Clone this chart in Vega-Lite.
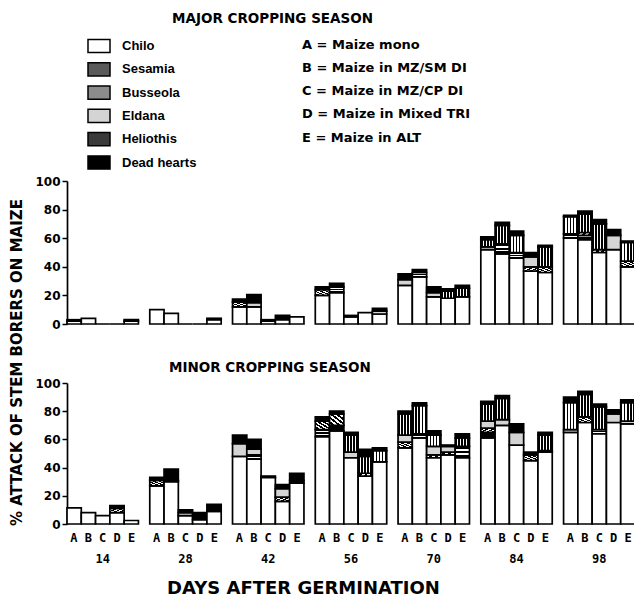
{
  "$schema": "https://vega.github.io/schema/vega-lite/v6.json",
  "background": "white",
  "padding": {"left": 9, "top": 11, "right": 0, "bottom": 0},
  "bounds": "flush",
  "spacing": 59,
  "config": {
    "view": {"stroke": null},
    "font": "DejaVu Sans",
    "axis": {"labelColor": "black", "domainColor": "black", "tickColor": "black", "titleColor": "black", "labelFont": "DejaVu Sans", "labelFontWeight": "bold", "grid": false},
    "legend": {"labelLimit": 400},
    "title": {"color": "black"}
  },
  "datasets": {
    "pests": [
      {"p": "Chilo", "o": 1}, {"p": "Sesamia", "o": 2}, {"p": "Busseola", "o": 3}, {"p": "Eldana", "o": 4}, {"p": "Heliothis", "o": 5}, {"p": "Dead hearts", "o": 6}
    ],
    "major": [
      {"d": 14, "t": "A", "p": "Chilo", "v": 2}, {"d": 14, "t": "A", "p": "Sesamia", "v": 1},
      {"d": 14, "t": "B", "p": "Chilo", "v": 4},
      {"d": 14, "t": "C", "p": "Chilo", "v": 0},
      {"d": 14, "t": "D", "p": "Chilo", "v": 0},
      {"d": 14, "t": "E", "p": "Chilo", "v": 2}, {"d": 14, "t": "E", "p": "Sesamia", "v": 1},
      {"d": 28, "t": "A", "p": "Chilo", "v": 10},
      {"d": 28, "t": "B", "p": "Chilo", "v": 7.5},
      {"d": 28, "t": "C", "p": "Chilo", "v": 0},
      {"d": 28, "t": "D", "p": "Chilo", "v": 0},
      {"d": 28, "t": "E", "p": "Chilo", "v": 3}, {"d": 28, "t": "E", "p": "Sesamia", "v": 1},
      {"d": 42, "t": "A", "p": "Chilo", "v": 12}, {"d": 42, "t": "A", "p": "Busseola", "v": 3.5}, {"d": 42, "t": "A", "p": "Dead hearts", "v": 2},
      {"d": 42, "t": "B", "p": "Chilo", "v": 12}, {"d": 42, "t": "B", "p": "Eldana", "v": 3}, {"d": 42, "t": "B", "p": "Dead hearts", "v": 5.5},
      {"d": 42, "t": "C", "p": "Chilo", "v": 2}, {"d": 42, "t": "C", "p": "Sesamia", "v": 1},
      {"d": 42, "t": "D", "p": "Chilo", "v": 3}, {"d": 42, "t": "D", "p": "Dead hearts", "v": 3},
      {"d": 42, "t": "E", "p": "Chilo", "v": 5},
      {"d": 56, "t": "A", "p": "Chilo", "v": 20}, {"d": 56, "t": "A", "p": "Busseola", "v": 4}, {"d": 56, "t": "A", "p": "Dead hearts", "v": 2},
      {"d": 56, "t": "B", "p": "Chilo", "v": 22}, {"d": 56, "t": "B", "p": "Sesamia", "v": 4}, {"d": 56, "t": "B", "p": "Dead hearts", "v": 2.5},
      {"d": 56, "t": "C", "p": "Chilo", "v": 5}, {"d": 56, "t": "C", "p": "Sesamia", "v": 1},
      {"d": 56, "t": "D", "p": "Chilo", "v": 8},
      {"d": 56, "t": "E", "p": "Chilo", "v": 7}, {"d": 56, "t": "E", "p": "Eldana", "v": 2}, {"d": 56, "t": "E", "p": "Dead hearts", "v": 2},
      {"d": 70, "t": "A", "p": "Chilo", "v": 27}, {"d": 70, "t": "A", "p": "Eldana", "v": 4}, {"d": 70, "t": "A", "p": "Dead hearts", "v": 4},
      {"d": 70, "t": "B", "p": "Chilo", "v": 33}, {"d": 70, "t": "B", "p": "Sesamia", "v": 3}, {"d": 70, "t": "B", "p": "Dead hearts", "v": 2},
      {"d": 70, "t": "C", "p": "Chilo", "v": 19}, {"d": 70, "t": "C", "p": "Eldana", "v": 3}, {"d": 70, "t": "C", "p": "Dead hearts", "v": 4},
      {"d": 70, "t": "D", "p": "Chilo", "v": 18}, {"d": 70, "t": "D", "p": "Heliothis", "v": 5}, {"d": 70, "t": "D", "p": "Dead hearts", "v": 1.5},
      {"d": 70, "t": "E", "p": "Chilo", "v": 19}, {"d": 70, "t": "E", "p": "Heliothis", "v": 6}, {"d": 70, "t": "E", "p": "Dead hearts", "v": 2},
      {"d": 84, "t": "A", "p": "Chilo", "v": 52}, {"d": 84, "t": "A", "p": "Eldana", "v": 2}, {"d": 84, "t": "A", "p": "Heliothis", "v": 5}, {"d": 84, "t": "A", "p": "Dead hearts", "v": 2},
      {"d": 84, "t": "B", "p": "Chilo", "v": 49}, {"d": 84, "t": "B", "p": "Sesamia", "v": 7}, {"d": 84, "t": "B", "p": "Heliothis", "v": 13}, {"d": 84, "t": "B", "p": "Dead hearts", "v": 2},
      {"d": 84, "t": "C", "p": "Chilo", "v": 46}, {"d": 84, "t": "C", "p": "Sesamia", "v": 4}, {"d": 84, "t": "C", "p": "Heliothis", "v": 12}, {"d": 84, "t": "C", "p": "Dead hearts", "v": 3},
      {"d": 84, "t": "D", "p": "Chilo", "v": 37}, {"d": 84, "t": "D", "p": "Busseola", "v": 3}, {"d": 84, "t": "D", "p": "Eldana", "v": 7}, {"d": 84, "t": "D", "p": "Dead hearts", "v": 3},
      {"d": 84, "t": "E", "p": "Chilo", "v": 36}, {"d": 84, "t": "E", "p": "Busseola", "v": 4}, {"d": 84, "t": "E", "p": "Heliothis", "v": 14}, {"d": 84, "t": "E", "p": "Dead hearts", "v": 1},
      {"d": 98, "t": "A", "p": "Chilo", "v": 60}, {"d": 98, "t": "A", "p": "Sesamia", "v": 3}, {"d": 98, "t": "A", "p": "Heliothis", "v": 12}, {"d": 98, "t": "A", "p": "Dead hearts", "v": 1},
      {"d": 98, "t": "B", "p": "Chilo", "v": 59}, {"d": 98, "t": "B", "p": "Sesamia", "v": 3}, {"d": 98, "t": "B", "p": "Busseola", "v": 2}, {"d": 98, "t": "B", "p": "Heliothis", "v": 13}, {"d": 98, "t": "B", "p": "Dead hearts", "v": 2},
      {"d": 98, "t": "C", "p": "Chilo", "v": 50}, {"d": 98, "t": "C", "p": "Busseola", "v": 2}, {"d": 98, "t": "C", "p": "Heliothis", "v": 18}, {"d": 98, "t": "C", "p": "Dead hearts", "v": 3},
      {"d": 98, "t": "D", "p": "Chilo", "v": 52}, {"d": 98, "t": "D", "p": "Eldana", "v": 10}, {"d": 98, "t": "D", "p": "Dead hearts", "v": 4},
      {"d": 98, "t": "E", "p": "Chilo", "v": 40}, {"d": 98, "t": "E", "p": "Busseola", "v": 4}, {"d": 98, "t": "E", "p": "Heliothis", "v": 13}, {"d": 98, "t": "E", "p": "Dead hearts", "v": 1}
    ],
    "minor": [
      {"d": 14, "t": "A", "p": "Chilo", "v": 11.5},
      {"d": 14, "t": "B", "p": "Chilo", "v": 8},
      {"d": 14, "t": "C", "p": "Chilo", "v": 6},
      {"d": 14, "t": "D", "p": "Chilo", "v": 8}, {"d": 14, "t": "D", "p": "Busseola", "v": 3}, {"d": 14, "t": "D", "p": "Dead hearts", "v": 2},
      {"d": 14, "t": "E", "p": "Chilo", "v": 2.5},
      {"d": 28, "t": "A", "p": "Chilo", "v": 27}, {"d": 28, "t": "A", "p": "Busseola", "v": 4}, {"d": 28, "t": "A", "p": "Dead hearts", "v": 2},
      {"d": 28, "t": "B", "p": "Chilo", "v": 30}, {"d": 28, "t": "B", "p": "Sesamia", "v": 1}, {"d": 28, "t": "B", "p": "Dead hearts", "v": 8},
      {"d": 28, "t": "C", "p": "Chilo", "v": 6}, {"d": 28, "t": "C", "p": "Eldana", "v": 2}, {"d": 28, "t": "C", "p": "Dead hearts", "v": 2},
      {"d": 28, "t": "D", "p": "Chilo", "v": 3}, {"d": 28, "t": "D", "p": "Dead hearts", "v": 5},
      {"d": 28, "t": "E", "p": "Chilo", "v": 9}, {"d": 28, "t": "E", "p": "Dead hearts", "v": 5},
      {"d": 42, "t": "A", "p": "Chilo", "v": 48}, {"d": 42, "t": "A", "p": "Eldana", "v": 9}, {"d": 42, "t": "A", "p": "Dead hearts", "v": 6},
      {"d": 42, "t": "B", "p": "Chilo", "v": 46}, {"d": 42, "t": "B", "p": "Sesamia", "v": 3}, {"d": 42, "t": "B", "p": "Eldana", "v": 4}, {"d": 42, "t": "B", "p": "Dead hearts", "v": 7},
      {"d": 42, "t": "C", "p": "Chilo", "v": 33}, {"d": 42, "t": "C", "p": "Dead hearts", "v": 1},
      {"d": 42, "t": "D", "p": "Chilo", "v": 16}, {"d": 42, "t": "D", "p": "Busseola", "v": 3}, {"d": 42, "t": "D", "p": "Eldana", "v": 6}, {"d": 42, "t": "D", "p": "Dead hearts", "v": 3},
      {"d": 42, "t": "E", "p": "Chilo", "v": 29}, {"d": 42, "t": "E", "p": "Sesamia", "v": 2}, {"d": 42, "t": "E", "p": "Dead hearts", "v": 5},
      {"d": 56, "t": "A", "p": "Chilo", "v": 62}, {"d": 56, "t": "A", "p": "Sesamia", "v": 5}, {"d": 56, "t": "A", "p": "Busseola", "v": 6}, {"d": 56, "t": "A", "p": "Dead hearts", "v": 3},
      {"d": 56, "t": "B", "p": "Chilo", "v": 66}, {"d": 56, "t": "B", "p": "Sesamia", "v": 4}, {"d": 56, "t": "B", "p": "Busseola", "v": 8}, {"d": 56, "t": "B", "p": "Dead hearts", "v": 2},
      {"d": 56, "t": "C", "p": "Chilo", "v": 47}, {"d": 56, "t": "C", "p": "Eldana", "v": 4}, {"d": 56, "t": "C", "p": "Heliothis", "v": 12}, {"d": 56, "t": "C", "p": "Dead hearts", "v": 2},
      {"d": 56, "t": "D", "p": "Chilo", "v": 34}, {"d": 56, "t": "D", "p": "Busseola", "v": 2}, {"d": 56, "t": "D", "p": "Heliothis", "v": 12}, {"d": 56, "t": "D", "p": "Dead hearts", "v": 5},
      {"d": 56, "t": "E", "p": "Chilo", "v": 44}, {"d": 56, "t": "E", "p": "Heliothis", "v": 8}, {"d": 56, "t": "E", "p": "Dead hearts", "v": 2},
      {"d": 70, "t": "A", "p": "Chilo", "v": 54}, {"d": 70, "t": "A", "p": "Busseola", "v": 4}, {"d": 70, "t": "A", "p": "Eldana", "v": 5}, {"d": 70, "t": "A", "p": "Heliothis", "v": 15}, {"d": 70, "t": "A", "p": "Dead hearts", "v": 2},
      {"d": 70, "t": "B", "p": "Chilo", "v": 61}, {"d": 70, "t": "B", "p": "Sesamia", "v": 3}, {"d": 70, "t": "B", "p": "Heliothis", "v": 20}, {"d": 70, "t": "B", "p": "Dead hearts", "v": 2},
      {"d": 70, "t": "C", "p": "Chilo", "v": 47}, {"d": 70, "t": "C", "p": "Busseola", "v": 2}, {"d": 70, "t": "C", "p": "Eldana", "v": 6}, {"d": 70, "t": "C", "p": "Heliothis", "v": 8}, {"d": 70, "t": "C", "p": "Dead hearts", "v": 3},
      {"d": 70, "t": "D", "p": "Chilo", "v": 49}, {"d": 70, "t": "D", "p": "Busseola", "v": 2}, {"d": 70, "t": "D", "p": "Eldana", "v": 4}, {"d": 70, "t": "D", "p": "Dead hearts", "v": 1},
      {"d": 70, "t": "E", "p": "Chilo", "v": 47}, {"d": 70, "t": "E", "p": "Sesamia", "v": 8}, {"d": 70, "t": "E", "p": "Heliothis", "v": 6}, {"d": 70, "t": "E", "p": "Dead hearts", "v": 3},
      {"d": 84, "t": "A", "p": "Chilo", "v": 61}, {"d": 84, "t": "A", "p": "Sesamia", "v": 4}, {"d": 84, "t": "A", "p": "Busseola", "v": 3}, {"d": 84, "t": "A", "p": "Eldana", "v": 5}, {"d": 84, "t": "A", "p": "Heliothis", "v": 12}, {"d": 84, "t": "A", "p": "Dead hearts", "v": 2},
      {"d": 84, "t": "B", "p": "Chilo", "v": 70}, {"d": 84, "t": "B", "p": "Eldana", "v": 4}, {"d": 84, "t": "B", "p": "Heliothis", "v": 15}, {"d": 84, "t": "B", "p": "Dead hearts", "v": 2},
      {"d": 84, "t": "C", "p": "Chilo", "v": 56}, {"d": 84, "t": "C", "p": "Eldana", "v": 9}, {"d": 84, "t": "C", "p": "Dead hearts", "v": 6},
      {"d": 84, "t": "D", "p": "Chilo", "v": 45}, {"d": 84, "t": "D", "p": "Busseola", "v": 4}, {"d": 84, "t": "D", "p": "Dead hearts", "v": 2},
      {"d": 84, "t": "E", "p": "Chilo", "v": 51}, {"d": 84, "t": "E", "p": "Busseola", "v": 1}, {"d": 84, "t": "E", "p": "Heliothis", "v": 11}, {"d": 84, "t": "E", "p": "Dead hearts", "v": 2},
      {"d": 98, "t": "A", "p": "Chilo", "v": 65}, {"d": 98, "t": "A", "p": "Sesamia", "v": 2}, {"d": 98, "t": "A", "p": "Heliothis", "v": 19}, {"d": 98, "t": "A", "p": "Dead hearts", "v": 4},
      {"d": 98, "t": "B", "p": "Chilo", "v": 72}, {"d": 98, "t": "B", "p": "Busseola", "v": 4}, {"d": 98, "t": "B", "p": "Heliothis", "v": 16}, {"d": 98, "t": "B", "p": "Dead hearts", "v": 2},
      {"d": 98, "t": "C", "p": "Chilo", "v": 64}, {"d": 98, "t": "C", "p": "Sesamia", "v": 3}, {"d": 98, "t": "C", "p": "Heliothis", "v": 16}, {"d": 98, "t": "C", "p": "Dead hearts", "v": 2},
      {"d": 98, "t": "D", "p": "Chilo", "v": 72}, {"d": 98, "t": "D", "p": "Eldana", "v": 6}, {"d": 98, "t": "D", "p": "Dead hearts", "v": 3},
      {"d": 98, "t": "E", "p": "Chilo", "v": 71}, {"d": 98, "t": "E", "p": "Eldana", "v": 2}, {"d": 98, "t": "E", "p": "Heliothis", "v": 13}, {"d": 98, "t": "E", "p": "Dead hearts", "v": 2}
    ]
  },
  "vconcat": [
    {
      "width": 568,
      "height": 143,
      "title": {"text": "MAJOR CROPPING SEASON", "anchor": "start", "frame": "group", "dx": 105, "offset": 150, "fontSize": 13.5, "font": "DejaVu Sans", "fontWeight": "bold"},
      "layer": [
        {
          "data": {"name": "major"},
          "transform": [{"lookup": "p", "from": {"data": {"name": "pests"}, "key": "p", "fields": ["o"]}}],
          "mark": {"type": "bar", "stroke": "black", "strokeWidth": 1.7},
          "encoding": {
            "x": {"field": "d", "type": "ordinal", "scale": {"paddingInner": 0.137, "paddingOuter": 0}, "axis": null},
            "xOffset": {"field": "t", "type": "nominal", "scale": {"paddingInner": 0, "paddingOuter": 0}},
            "y": {"field": "v", "type": "quantitative", "scale": {"domain": [0, 100], "nice": false},
              "axis": {"values": [0, 20, 40, 60, 80, 100], "domainWidth": 1.7, "tickWidth": 1.5, "tickSize": 5, "labelFontSize": 12, "labelPadding": 2,
                "title": "% ATTACK OF STEM BORERS ON MAIZE", "titleFont": "DejaVu Sans", "titleFontSize": 15, "titleFontWeight": "bold",
                "titleAngle": -90, "titleAlign": "center", "titleBaseline": "middle", "titleX": -51, "titleY": 181}},
            "order": {"field": "o", "type": "quantitative", "sort": "ascending"},
            "fill": {"field": "p", "type": "nominal",
              "scale": {"domain": ["Chilo", "Sesamia", "Busseola", "Eldana", "Heliothis", "Dead hearts"], "range": ["#ffffff", "#5a5a5a", "#8c8c8c", "#d4d4d4", "#3a3a3a", "#000000"]},
              "condition": [
                {"test": "datum.p == 'Sesamia'", "value": {"gradient": "linear", "x1": 0, "y1": 0, "x2": 0, "y2": 1, "stops": [{"offset": 0, "color": "#000"}, {"offset": 0.22, "color": "#000"}, {"offset": 0.22, "color": "#fff"}, {"offset": 0.36, "color": "#fff"}, {"offset": 0.36, "color": "#000"}, {"offset": 0.58, "color": "#000"}, {"offset": 0.58, "color": "#fff"}, {"offset": 0.72, "color": "#fff"}, {"offset": 0.72, "color": "#000"}, {"offset": 1, "color": "#000"}]}},
                {"test": "datum.p == 'Busseola'", "value": {"gradient": "linear", "x1": 0, "y1": 1, "x2": 1, "y2": 0, "stops": [{"offset": 0, "color": "#fff"}, {"offset": 0.1, "color": "#fff"}, {"offset": 0.1, "color": "#000"}, {"offset": 0.2, "color": "#000"}, {"offset": 0.2, "color": "#fff"}, {"offset": 0.3, "color": "#fff"}, {"offset": 0.3, "color": "#000"}, {"offset": 0.4, "color": "#000"}, {"offset": 0.4, "color": "#fff"}, {"offset": 0.5, "color": "#fff"}, {"offset": 0.5, "color": "#000"}, {"offset": 0.6, "color": "#000"}, {"offset": 0.6, "color": "#fff"}, {"offset": 0.7, "color": "#fff"}, {"offset": 0.7, "color": "#000"}, {"offset": 0.8, "color": "#000"}, {"offset": 0.8, "color": "#fff"}, {"offset": 0.9, "color": "#fff"}, {"offset": 0.9, "color": "#000"}, {"offset": 1, "color": "#000"}]}},
                {"test": "datum.p == 'Heliothis'", "value": {"gradient": "linear", "x1": 0, "y1": 0, "x2": 1, "y2": 0, "stops": [{"offset": 0, "color": "#000"}, {"offset": 0.12, "color": "#000"}, {"offset": 0.12, "color": "#fff"}, {"offset": 0.22, "color": "#fff"}, {"offset": 0.22, "color": "#000"}, {"offset": 0.33, "color": "#000"}, {"offset": 0.33, "color": "#fff"}, {"offset": 0.43, "color": "#fff"}, {"offset": 0.43, "color": "#000"}, {"offset": 0.55, "color": "#000"}, {"offset": 0.55, "color": "#fff"}, {"offset": 0.65, "color": "#fff"}, {"offset": 0.65, "color": "#000"}, {"offset": 0.76, "color": "#000"}, {"offset": 0.76, "color": "#fff"}, {"offset": 0.86, "color": "#fff"}, {"offset": 0.86, "color": "#000"}, {"offset": 1, "color": "#000"}]}}
              ],
              "legend": {"orient": "none", "legendX": 20, "legendY": -147, "title": null, "padding": 0, "symbolType": "M-1,-0.6H1V0.6H-1Z", "symbolSize": 484, "symbolStrokeColor": "black", "symbolStrokeWidth": 1.5, "symbolOpacity": 1, "labelFont": "Liberation Sans", "labelFontSize": 13, "labelFontWeight": "bold", "labelColor": "black", "labelOffset": 11, "rowPadding": 1.3}}
          }
        },
        {
          "data": {"values": [{"k": "A = Maize mono"}, {"k": "B = Maize in MZ/SM DI"}, {"k": "C = Maize in MZ/CP DI"}, {"k": "D = Maize in Mixed TRI"}, {"k": "E = Maize in ALT"}]},
          "mark": {"type": "point", "opacity": 0},
          "encoding": {
            "shape": {"field": "k", "type": "nominal",
              "legend": {"orient": "none", "legendX": 222, "legendY": -143, "title": null, "padding": 0, "symbolSize": 1, "symbolOpacity": 0, "labelOffset": 0, "labelFont": "DejaVu Sans", "labelFontSize": 13, "labelFontWeight": "bold", "labelColor": "black", "rowPadding": 9.3}}
          }
        }
      ]
    },
    {
      "width": 568,
      "height": 141,
      "title": {"text": "MINOR CROPPING SEASON", "anchor": "start", "frame": "group", "dx": 102, "offset": 3, "fontSize": 13.5, "font": "DejaVu Sans", "fontWeight": "bold"},
      "data": {"name": "minor"},
      "transform": [{"lookup": "p", "from": {"data": {"name": "pests"}, "key": "p", "fields": ["o"]}}],
      "mark": {"type": "bar", "stroke": "black", "strokeWidth": 1.7},
      "encoding": {
        "x": {"field": "d", "type": "ordinal", "scale": {"paddingInner": 0.137, "paddingOuter": 0},
          "axis": {"domain": false, "ticks": false, "labelAngle": 0, "labelExpr": "['A B C D E', datum.label]", "labelFont": "DejaVu Sans Mono", "labelFontSize": 12, "labelFontWeight": "bold", "labelLineHeight": 21, "labelPadding": 8, "labelOverlap": false, "labelBound": false, "labelFlush": false,
            "title": "DAYS AFTER GERMINATION", "titleFont": "DejaVu Sans", "titleFontSize": 18, "titleFontWeight": "bold", "titleX": 236, "titleY": 55, "titleBaseline": "top", "titleAlign": "center"}},
        "xOffset": {"field": "t", "type": "nominal", "scale": {"paddingInner": 0, "paddingOuter": 0}},
        "y": {"field": "v", "type": "quantitative", "scale": {"domain": [0, 100], "nice": false},
          "axis": {"values": [0, 20, 40, 60, 80, 100], "domainWidth": 1.7, "tickWidth": 1.5, "tickSize": 5, "labelFontSize": 12, "labelPadding": 2, "title": null}},
        "order": {"field": "o", "type": "quantitative", "sort": "ascending"},
        "fill": {"field": "p", "type": "nominal",
          "scale": {"domain": ["Chilo", "Sesamia", "Busseola", "Eldana", "Heliothis", "Dead hearts"], "range": ["#ffffff", "#5a5a5a", "#8c8c8c", "#d4d4d4", "#3a3a3a", "#000000"]},
          "condition": [
            {"test": "datum.p == 'Sesamia'", "value": {"gradient": "linear", "x1": 0, "y1": 0, "x2": 0, "y2": 1, "stops": [{"offset": 0, "color": "#000"}, {"offset": 0.22, "color": "#000"}, {"offset": 0.22, "color": "#fff"}, {"offset": 0.36, "color": "#fff"}, {"offset": 0.36, "color": "#000"}, {"offset": 0.58, "color": "#000"}, {"offset": 0.58, "color": "#fff"}, {"offset": 0.72, "color": "#fff"}, {"offset": 0.72, "color": "#000"}, {"offset": 1, "color": "#000"}]}},
            {"test": "datum.p == 'Busseola'", "value": {"gradient": "linear", "x1": 0, "y1": 1, "x2": 1, "y2": 0, "stops": [{"offset": 0, "color": "#fff"}, {"offset": 0.1, "color": "#fff"}, {"offset": 0.1, "color": "#000"}, {"offset": 0.2, "color": "#000"}, {"offset": 0.2, "color": "#fff"}, {"offset": 0.3, "color": "#fff"}, {"offset": 0.3, "color": "#000"}, {"offset": 0.4, "color": "#000"}, {"offset": 0.4, "color": "#fff"}, {"offset": 0.5, "color": "#fff"}, {"offset": 0.5, "color": "#000"}, {"offset": 0.6, "color": "#000"}, {"offset": 0.6, "color": "#fff"}, {"offset": 0.7, "color": "#fff"}, {"offset": 0.7, "color": "#000"}, {"offset": 0.8, "color": "#000"}, {"offset": 0.8, "color": "#fff"}, {"offset": 0.9, "color": "#fff"}, {"offset": 0.9, "color": "#000"}, {"offset": 1, "color": "#000"}]}},
            {"test": "datum.p == 'Heliothis'", "value": {"gradient": "linear", "x1": 0, "y1": 0, "x2": 1, "y2": 0, "stops": [{"offset": 0, "color": "#000"}, {"offset": 0.12, "color": "#000"}, {"offset": 0.12, "color": "#fff"}, {"offset": 0.22, "color": "#fff"}, {"offset": 0.22, "color": "#000"}, {"offset": 0.33, "color": "#000"}, {"offset": 0.33, "color": "#fff"}, {"offset": 0.43, "color": "#fff"}, {"offset": 0.43, "color": "#000"}, {"offset": 0.55, "color": "#000"}, {"offset": 0.55, "color": "#fff"}, {"offset": 0.65, "color": "#fff"}, {"offset": 0.65, "color": "#000"}, {"offset": 0.76, "color": "#000"}, {"offset": 0.76, "color": "#fff"}, {"offset": 0.86, "color": "#fff"}, {"offset": 0.86, "color": "#000"}, {"offset": 1, "color": "#000"}]}}
          ],
          "legend": {"orient": "none", "legendX": 20, "legendY": -147, "title": null, "padding": 0, "symbolType": "M-1,-0.6H1V0.6H-1Z", "symbolSize": 484, "symbolStrokeColor": "black", "symbolStrokeWidth": 1.5, "symbolOpacity": 1, "labelFont": "Liberation Sans", "labelFontSize": 13, "labelFontWeight": "bold", "labelColor": "black", "labelOffset": 11, "rowPadding": 1.3}}
      }
    }
  ]
}
